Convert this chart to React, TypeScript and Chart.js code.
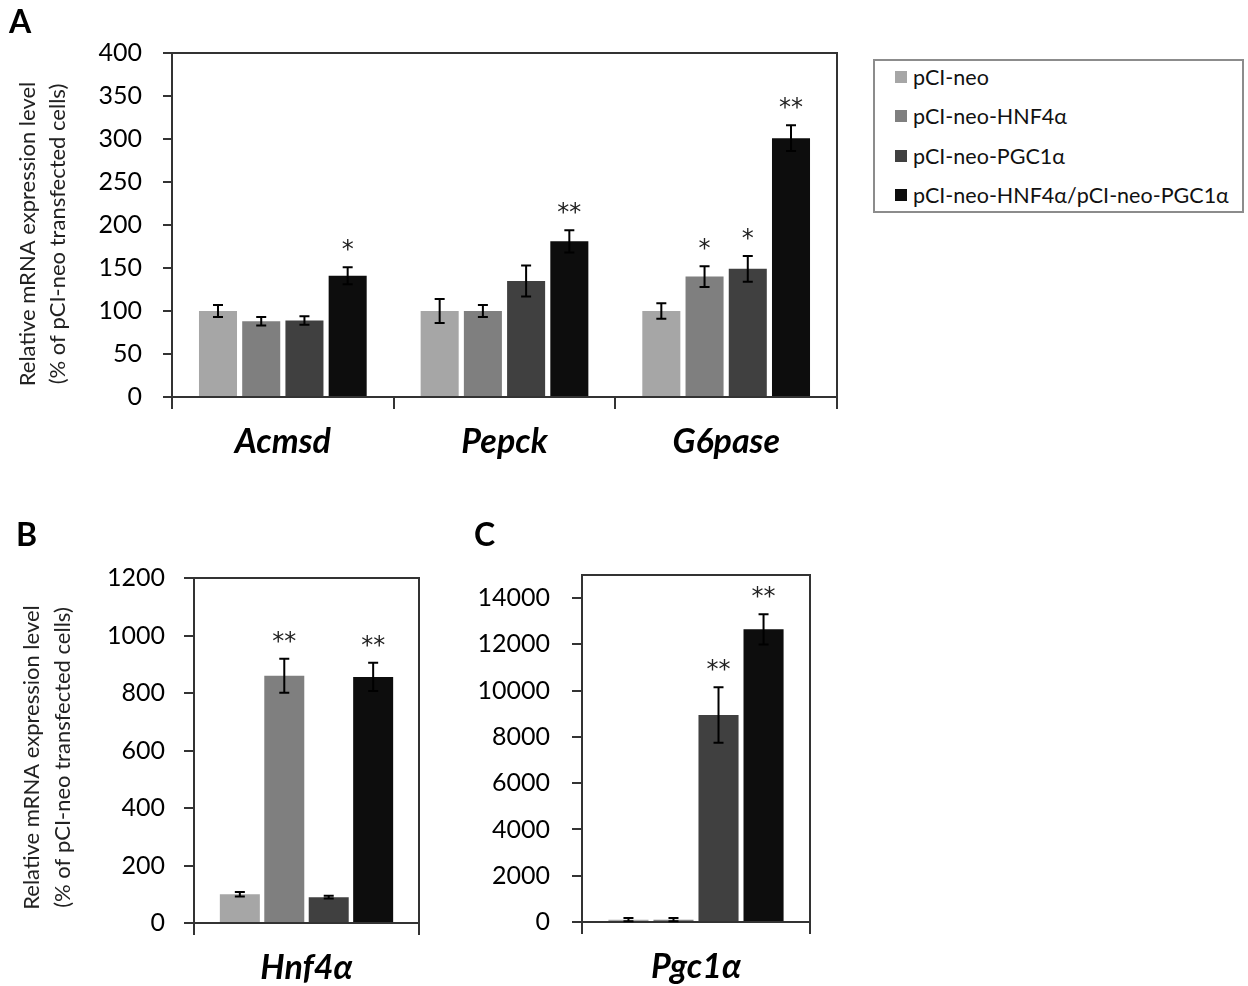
import React, { useEffect, useRef } from 'react';
import { Chart, registerables } from 'chart.js';
Chart.register(...registerables);

const FONT = 'Lato';

// ---------- shared series ----------
const seriesLabels = ['pCI-neo', 'pCI-neo-HNF4α', 'pCI-neo-PGC1α', 'pCI-neo-HNF4α/pCI-neo-PGC1α'];
const seriesColors = ['#a6a6a6', '#7f7f7f', '#404040', '#0d0d0d'];
const yTitle = ['Relative mRNA expression level', '(% of pCI-neo transfected cells)'];

// ---------- panel A ----------
const genesA = ['Acmsd', 'Pepck', 'G6pase'];
const pcineoA = [100, 100, 100];
const hnf4aA = [88, 100, 140];
const pgc1aA = [89, 135, 149];
const comboA = [141, 181, 301];
const pcineoErrA = [7, 14, 9];
const hnf4aErrA = [5, 7, 12];
const pgc1aErrA = [5, 18, 15];
const comboErrA = [10, 13, 15];
const starsA = [['', '', ''], ['', '', '*'], ['', '', '*'], ['*', '**', '**']];
const yTicksA = [0, 50, 100, 150, 200, 250, 300, 350, 400];
const yMaxA = 400;

// ---------- panel B ----------
const genesB = ['Hnf4α'];
const valuesB = [100, 860, 90, 856];
const errsB = [8, 59, 5, 49];
const starsB = ['', '**', '', '**'];
const yTicksB = [0, 200, 400, 600, 800, 1000, 1200];
const yMaxB = 1200;

// ---------- panel C ----------
const genesC = ['Pgc1α'];
const valuesC = [100, 100, 8950, 12650];
const errsC = [70, 70, 1200, 650];
const starsC = ['', '', '**', '**'];
const yTicksC = [0, 2000, 4000, 6000, 8000, 10000, 12000, 14000];
const yMaxC = 15000;

const LINE = '#333';

function errorPlugin(errs: number[][], stars: string[][]) {
  return {
    id: 'errbars',
    afterDatasetsDraw(chart: any) {
      const ctx = chart.ctx;
      const y = chart.scales.y;
      ctx.save();
      chart.data.datasets.forEach((ds: any, di: number) => {
        const meta = chart.getDatasetMeta(di);
        meta.data.forEach((bar: any, i: number) => {
          const v = ds.data[i];
          const e = errs[di][i];
          const top = y.getPixelForValue(v + e);
          const bot = y.getPixelForValue(Math.max(v - e, 0));
          ctx.strokeStyle = '#000';
          ctx.lineWidth = 2;
          ctx.beginPath();
          ctx.moveTo(bar.x, top);
          ctx.lineTo(bar.x, bot);
          ctx.moveTo(bar.x - 5, top);
          ctx.lineTo(bar.x + 5, top);
          ctx.moveTo(bar.x - 5, bot);
          ctx.lineTo(bar.x + 5, bot);
          ctx.stroke();
          const s = stars[di][i];
          if (s) {
            ctx.fillStyle = '#222';
            ctx.font = `24px "DejaVu Sans"`;
            ctx.textAlign = 'center';
            ctx.textBaseline = 'alphabetic';
            const n = s.length;
            for (let k = 0; k < n; k++) {
              ctx.fillText('*', bar.x + (k - (n - 1) / 2) * 12, top - 10);
            }
          }
        });
      });
      ctx.restore();
    },
  };
}

const framePlugin = {
  id: 'frame',
  afterDraw(chart: any) {
    const { left, top, right, bottom } = chart.chartArea;
    const ctx = chart.ctx;
    ctx.save();
    ctx.strokeStyle = LINE;
    ctx.lineWidth = 2;
    ctx.beginPath();
    ctx.moveTo(left, top);
    ctx.lineTo(right, top);
    ctx.lineTo(right, bottom);
    ctx.stroke();
    ctx.restore();
  },
};

// y-axis title drawn in the axis box (two rotated lines)
function yTitlePlugin(lines: string[] | undefined, x0: number, lh: number, dy: number) {
  return {
    id: 'ytitle',
    afterDraw(chart: any) {
      if (!lines) return;
      const { top, bottom } = chart.chartArea;
      const ctx = chart.ctx;
      ctx.save();
      ctx.fillStyle = '#222';
      ctx.font = `22px ${FONT}`;
      ctx.textAlign = 'center';
      ctx.textBaseline = 'middle';
      lines.forEach((l, i) => {
        ctx.save();
        ctx.translate(x0 + i * lh, (top + bottom) / 2 + dy);
        ctx.rotate(-Math.PI / 2);
        ctx.fillText(l, 0, 0);
        ctx.restore();
      });
      ctx.restore();
    },
  };
}

type PanelCfg = {
  labels: string[];
  data: number[][];
  errs: number[][];
  stars: string[][];
  yTicks: number[];
  yMax: number;
  width: number;
  height: number;
  yWidth: number;
  plotBottom: number;
  padTop: number;
  padRight: number;
  tickLen: number;
  tickPad: number;
  title?: string[];
  titleX?: number;
  titleLH?: number;
  titleDY?: number;
  catPct: number;
  barPct: number;
};

function Panel({ cfg, style }: { cfg: PanelCfg; style: React.CSSProperties }) {
  const ref = useRef<HTMLCanvasElement>(null);
  useEffect(() => {
    if (!ref.current) return;
    const chart = new Chart(ref.current, {
      type: 'bar',
      data: {
        labels: cfg.labels,
        datasets: cfg.data.map((d, i) => ({
          label: seriesLabels[i],
          data: d,
          backgroundColor: seriesColors[i],
          borderWidth: 0,
          barPercentage: cfg.barPct,
          categoryPercentage: cfg.catPct,
        })),
      },
      options: {
        responsive: false,
        animation: false,
        devicePixelRatio: 1,
        layout: { padding: { top: cfg.padTop, right: cfg.padRight, left: 0, bottom: 0 } },
        plugins: { legend: { display: false }, tooltip: { enabled: false } },
        scales: {
          x: {
            grid: { offset: true, drawOnChartArea: false, tickLength: 12, color: LINE, lineWidth: 2 },
            border: { color: LINE, width: 2 },
            ticks: {
              color: '#000',
              padding: 13,
              font: { family: FONT, size: 34, weight: 'bold', style: 'italic' },
            },
            afterFit: (s: any) => {
              s.height = cfg.height - cfg.plotBottom;
            },
          },
          y: {
            min: 0,
            max: cfg.yMax,
            ticks: {
              padding: cfg.tickPad,
              color: '#000',
              font: { family: FONT, size: 25 },
              callback: (v: any) => String(v),
            },
            afterBuildTicks: (s: any) => {
              s.ticks = cfg.yTicks.map((v) => ({ value: v }));
            },
            grid: { drawOnChartArea: false, tickLength: cfg.tickLen, color: LINE, lineWidth: 2 },
            border: { color: LINE, width: 2 },
            title: { display: false },
            afterFit: (s: any) => {
              s.width = cfg.yWidth;
            },
          },
        },
      } as any,
      plugins: [
        errorPlugin(cfg.errs, cfg.stars),
        framePlugin,
        yTitlePlugin(cfg.title, cfg.titleX || 0, cfg.titleLH || 30, cfg.titleDY || 0),
      ],
    });
    return () => chart.destroy();
  }, []);
  return (
    <canvas
      ref={ref}
      width={cfg.width}
      height={cfg.height}
      style={{ position: 'absolute', width: cfg.width, height: cfg.height, ...style }}
    />
  );
}

const cfgA: PanelCfg = {
  labels: genesA,
  data: [pcineoA, hnf4aA, pgc1aA, comboA],
  errs: [pcineoErrA, hnf4aErrA, pgc1aErrA, comboErrA],
  stars: starsA,
  yTicks: yTicksA,
  yMax: yMaxA,
  width: 860,
  height: 480,
  yWidth: 172,
  plotBottom: 397,
  padTop: 53,
  padRight: 23,
  tickLen: 9,
  tickPad: 21,
  title: yTitle,
  titleX: 28,
  titleLH: 30,
  titleDY: 9,
  catPct: 0.78,
  barPct: 0.88,
};

const cfgB: PanelCfg = {
  labels: genesB,
  data: valuesB.map((v) => [v]),
  errs: errsB.map((v) => [v]),
  stars: starsB.map((s) => [s]),
  yTicks: yTicksB,
  yMax: yMaxB,
  width: 440,
  height: 486,
  yWidth: 194,
  plotBottom: 423,
  padTop: 78,
  padRight: 21,
  tickLen: 10,
  tickPad: 19,
  title: yTitle,
  titleX: 32,
  titleLH: 31,
  titleDY: 7,
  catPct: 0.79,
  barPct: 0.9,
};

const cfgC: PanelCfg = {
  labels: genesC,
  data: valuesC.map((v) => [v]),
  errs: errsC.map((v) => [v]),
  stars: starsC.map((s) => [s]),
  yTicks: yTicksC,
  yMax: yMaxC,
  width: 400,
  height: 486,
  yWidth: 122,
  plotBottom: 422,
  padTop: 75,
  padRight: 50,
  tickLen: 10,
  tickPad: 22,
  catPct: 0.79,
  barPct: 0.89,
};

const panelLetter: React.CSSProperties = {
  position: 'absolute',
  fontFamily: FONT,
  fontWeight: 'bold',
  fontSize: 32,
  lineHeight: '32px',
  color: '#000',
};

export default function App() {
  return (
    <div
      style={{
        position: 'absolute',
        left: 0,
        top: 0,
        width: 1248,
        height: 986,
        background: '#fff',
        overflow: 'hidden',
      }}
    >
      <Panel cfg={cfgA} style={{ left: 0, top: 0 }} />
      <Panel cfg={cfgB} style={{ left: 0, top: 500 }} />
      <Panel cfg={cfgC} style={{ left: 460, top: 500 }} />
      <div style={{ ...panelLetter, left: 9, top: 5 }}>A</div>
      <div style={{ ...panelLetter, left: 16, top: 518 }}>B</div>
      <div style={{ ...panelLetter, left: 474, top: 518 }}>C</div>
      <div
        style={{
          position: 'absolute',
          left: 873,
          top: 59,
          width: 367,
          height: 150,
          border: '2px solid #8c8c8c',
          fontFamily: FONT,
          fontSize: 21.5,
          color: '#111',
        }}
      >
        {seriesLabels.map((l, i) => (
          <div
            key={l}
            style={{
              position: 'absolute',
              left: 20,
              top: 3 + i * 39.3,
              height: 26,
              display: 'flex',
              alignItems: 'center',
              whiteSpace: 'nowrap',
            }}
          >
            <span
              style={{
                display: 'inline-block',
                width: 12,
                height: 12,
                background: seriesColors[i],
                marginRight: 6,
              }}
            />
            {l}
          </div>
        ))}
      </div>
    </div>
  );
}
